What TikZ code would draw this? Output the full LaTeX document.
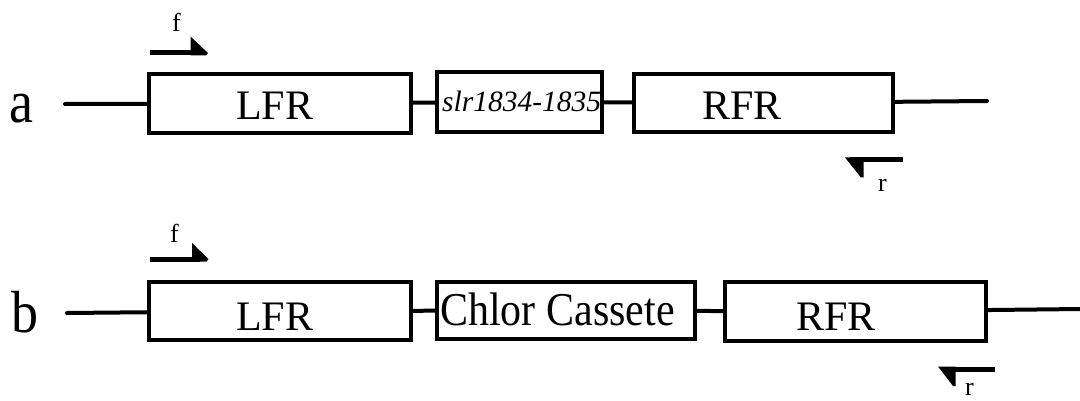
\documentclass[tikz,border=0pt]{standalone}
\usepackage{fontspec}
\setmainfont{Liberation Serif}
\usepackage{graphicx}
\begin{document}
\begin{tikzpicture}[x=1pt,y=-1pt,
  box/.style={draw=black,line width=4pt,rectangle,inner sep=0pt},
  dna/.style={line width=4pt,line cap=round},
  primer/.style={line width=5pt},
  txt/.style={inner sep=0pt,anchor=base west},
  big/.style={txt,font=\fontsize{42}{42}\selectfont},
  small/.style={txt,font=\fontsize{26}{26}\selectfont}]
\useasboundingbox (0,0) rectangle (1080,401);
% row a
\node[box,minimum width=262pt,minimum height=59pt] (la) at (280,103.5) {};
\node[box,minimum width=165pt,minimum height=60pt] (sa) at (519.5,102) {};
\node[box,minimum width=259pt,minimum height=58pt] (ra) at (763.5,103) {};
\coordinate (a0) at (65,104);
\coordinate (a1) at (987,101);
\draw[dna] (a0) -- (la);
\draw[dna] (la) -- (sa);
\draw[dna] (sa) -- (ra);
\draw[dna] (ra) -- (a1);
\node[big] (tla) at (236,120) {LFR};
\node[txt,font=\fontsize{29.5}{29.5}\selectfont\itshape] (tsa) at (442,112) {slr1834-1835};
\node[big] (tra) at (702,120) {RFR};
\node[txt,font=\fontsize{54}{54}\selectfont] (lbla) at (9,123) {\scalebox{1}[1.12]{a}};
% primers a
\coordinate (fa0) at (150,52.5);
\coordinate (fa1) at (200,52.5);
\draw[primer] (fa0) -- (fa1);
\fill (190.5,36.5) -- (208,53) -- (206,55.5) -- (190.5,55.5) -- cycle;
\node[small] (tfa) at (172,32) {f};
\coordinate (ra0) at (903,160);
\coordinate (ra1) at (850,160);
\draw[primer] (ra0) -- (ra1);
\fill (845,157.5) -- (863.5,157.5) -- (863.5,177.5) -- (861,177.5) -- cycle;
\node[small] (tra2) at (878,192) {r};
% row b
\node[box,minimum width=262pt,minimum height=58pt] (lb) at (280,311) {};
\node[box,minimum width=258pt,minimum height=57pt] (cb) at (566,310.5) {};
\node[box,minimum width=261pt,minimum height=59pt] (rb) at (855.5,311.5) {};
\coordinate (b0) at (67,313);
\coordinate (b1) at (1082,309);
\draw[dna] (b0) -- (lb);
\draw[dna] (lb) -- (cb);
\draw[dna] (cb) -- (rb);
\draw[dna] (rb) -- (b1);
\node[big] (tlb) at (236,330) {LFR};
\node[txt,font=\fontsize{42}{42}\selectfont] (tcb) at (440,325) {\scalebox{1}[1.12]{Chlor Cassete}};
\node[big] (trb) at (796,330) {RFR};
\node[txt,font=\fontsize{54}{54}\selectfont] (lblb) at (11,332) {\scalebox{1}[1.1]{b}};
% primers b
\coordinate (fb0) at (150,259);
\coordinate (fb1) at (200,259);
\draw[primer] (fb0) -- (fb1);
\fill (192,243) -- (208.5,259) -- (206.5,261.5) -- (192,261.5) -- cycle;
\node[small] (tfb) at (170,243) {f};
\coordinate (rb0) at (995,369);
\coordinate (rb1) at (943,369);
\draw[primer] (rb0) -- (rb1);
\fill (938,366.5) -- (955.5,366.5) -- (955.5,386) -- (953,386) -- cycle;
\node[small] (trb2) at (965,395) {r};
\end{tikzpicture}
\end{document}
